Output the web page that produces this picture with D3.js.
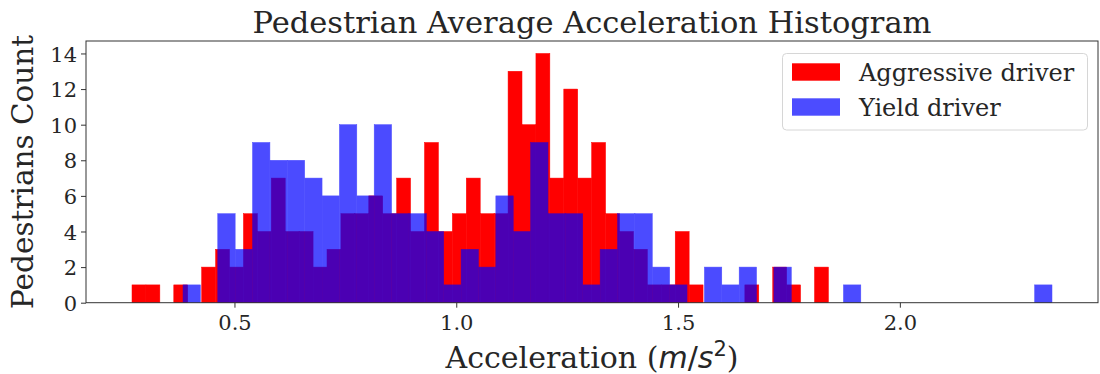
<!DOCTYPE html>
<html>
<head>
<meta charset="utf-8">
<script src="https://cdn.jsdelivr.net/npm/d3@7"></script>
<style>
  html, body { margin: 0; padding: 0; background: #fff; }
  svg { display: block; }
  text { font-family: "DejaVu Serif", serif; fill: #262626; }
</style>
</head>
<body>
<svg id="chart" width="1100" height="374"></svg>
<script>
// ---- data (histogram counts, 50 bins per series) ----
const seriesNames = ["Aggressive driver", "Yield driver"];
const aggressiveRange = [0.269, 1.839];
const aggressiveCounts = [1,1,0,1,0,2,3,2,5,4,7,4,4,2,3,5,5,6,5,7,4,9,4,5,7,5,5,13,10,14,7,12,7,9,5,4,3,1,1,4,1,0,0,0,1,0,2,1,0,2];
const yieldRange = [0.384, 2.343];
const yieldCounts = [1,0,5,3,9,8,8,7,6,10,6,10,5,5,4,1,3,2,6,4,9,5,5,1,3,5,5,2,1,0,2,1,2,0,2,0,0,0,1,0,0,0,0,0,0,0,0,0,0,1];
const xTickValues = [0.5, 1.0, 1.5, 2.0];
const yTickValues = [0, 2, 4, 6, 8, 10, 12, 14];
const titleText = "Pedestrian Average Acceleration Histogram";
const yLabelText = "Pedestrians Count";

// ---- layout ----
const L = 86, R = 1098, T = 41, B = 302.7;
const svg = d3.select("#chart");

const xMin = Math.min(aggressiveRange[0], yieldRange[0]);
const xMax = Math.max(aggressiveRange[1], yieldRange[1]);
const pad = 0.05 * (xMax - xMin);
const x = d3.scaleLinear().domain([xMin - pad, xMax + pad]).range([L, R]);
const yMax = d3.max([...aggressiveCounts, ...yieldCounts]) * 1.05;
const y = d3.scaleLinear().domain([0, yMax]).range([B, T]);

function bins(range, counts) {
  const w = (range[1] - range[0]) / counts.length;
  return counts.map((c, i) => ({ x0: range[0] + i * w, x1: range[0] + (i + 1) * w, c }))
               .filter(d => d.c > 0);
}

const plot = svg.append("g");
plot.append("g").selectAll("rect").data(bins(aggressiveRange, aggressiveCounts)).join("rect")
  .attr("x", d => x(d.x0)).attr("width", d => x(d.x1) - x(d.x0))
  .attr("y", d => y(d.c)).attr("height", d => y(0) - y(d.c))
  .attr("fill", "#ff0000").attr("stroke", "#ff0000").attr("stroke-width", 0.5);
plot.append("g").attr("opacity", 0.7).selectAll("rect").data(bins(yieldRange, yieldCounts)).join("rect")
  .attr("x", d => x(d.x0)).attr("width", d => x(d.x1) - x(d.x0))
  .attr("y", d => y(d.c)).attr("height", d => y(0) - y(d.c))
  .attr("fill", "#0000ff").attr("stroke", "#0000ff").attr("stroke-width", 0.5);

// ---- axes ----
const xAxis = svg.append("g").attr("transform", `translate(0,${B})`)
  .call(d3.axisBottom(x).tickValues(xTickValues).tickFormat(d3.format(".1f")).tickSize(5).tickPadding(4));
const yAxis = svg.append("g").attr("transform", `translate(${L},0)`)
  .call(d3.axisLeft(y).tickValues(yTickValues).tickFormat(d3.format("d")).tickSize(5).tickPadding(4));
[xAxis, yAxis].forEach(a => {
  a.select(".domain").remove();
  a.selectAll(".tick line").attr("stroke", "#333").attr("stroke-width", 1);
  a.selectAll(".tick text").style("font-family", "DejaVu Serif").style("font-size", "21px").attr("fill", "#262626");
});
xAxis.selectAll(".tick text").attr("dy", "0.85em");
yAxis.selectAll(".tick text").attr("dy", "0.36em");

// frame
svg.append("rect").attr("x", L).attr("y", T).attr("width", R - L).attr("height", B - T)
  .attr("fill", "none").attr("stroke", "#333").attr("stroke-width", 1);

// ---- texts ----
svg.append("text").attr("x", (L + R) / 2).attr("y", 33).attr("text-anchor", "middle")
  .style("font-size", "30.5px").text(titleText);

svg.append("text").attr("transform", `translate(33,${(T + B) / 2}) rotate(-90)`)
  .attr("text-anchor", "middle").style("font-size", "29.5px").text(yLabelText);

const xl = svg.append("text").attr("x", (L + R) / 2).attr("y", 368).attr("text-anchor", "middle")
  .style("font-size", "30px");
xl.append("tspan").text("Acceleration (");
xl.append("tspan").style("font-family", "DejaVu Sans").style("font-style", "italic").text("m");
xl.append("tspan").style("font-family", "DejaVu Sans").text("/");
xl.append("tspan").style("font-family", "DejaVu Sans").style("font-style", "italic").text("s");
xl.append("tspan").style("font-family", "DejaVu Sans").style("font-size", "21px").attr("dy", "-12").text("2");
xl.append("tspan").attr("dy", "12").text(")");

// ---- legend ----
const lg = svg.append("g");
lg.append("rect").attr("x", 782.5).attr("y", 53.5).attr("width", 305).attr("height", 76.5)
  .attr("rx", 4).attr("fill", "#fff").attr("fill-opacity", 0.8).attr("stroke", "#d6d6d6");
const legendColors = [{ c: "#ff0000", o: 1 }, { c: "#0000ff", o: 0.7 }];
seriesNames.forEach((n, i) => {
  const cy = 72 + i * 35;
  lg.append("rect").attr("x", 792).attr("y", cy - 8.7).attr("width", 48).attr("height", 17.4)
    .attr("fill", legendColors[i].c).attr("fill-opacity", legendColors[i].o);
  lg.append("text").attr("x", 859).attr("y", cy).attr("dy", "0.36em")
    .style("font-size", "24px").text(n);
});
</script>
</body>
</html>
